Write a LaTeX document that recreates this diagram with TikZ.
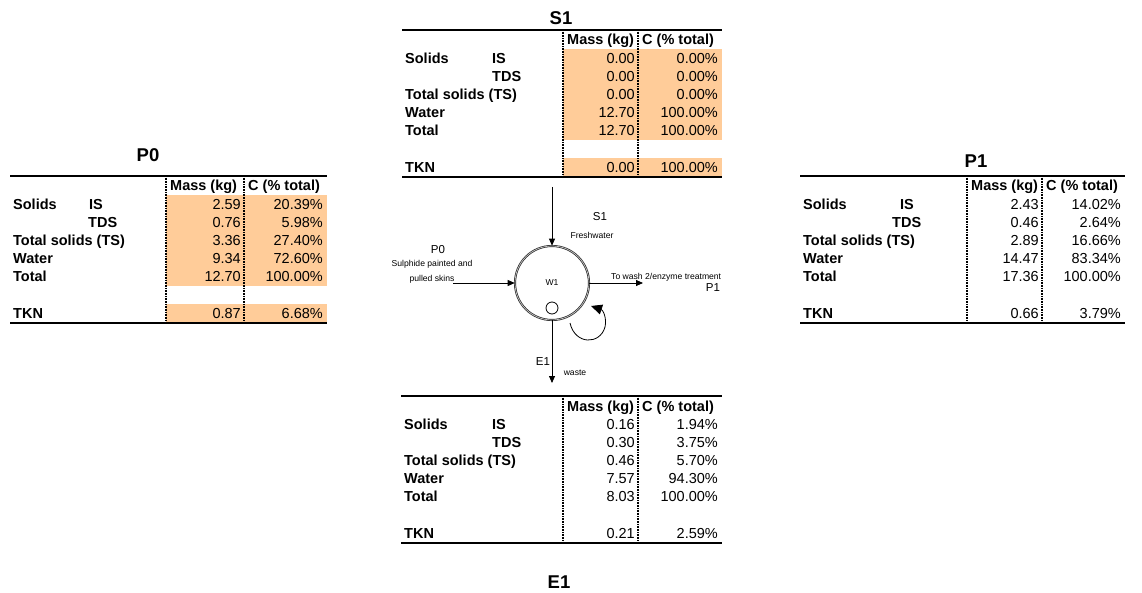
\documentclass[tikz,border=0pt]{standalone}
\usepackage{fontspec}
\setmainfont{Liberation Sans}
\usetikzlibrary{arrows.meta}
\definecolor{cellorange}{HTML}{FFCC99}
\tikzset{
  lbl/.style={font=\fontsize{14.5}{17}\selectfont\bfseries, inner sep=0pt, anchor=base west},
  val/.style={font=\fontsize{14.5}{17}\selectfont, inner sep=0pt, anchor=base east},
  ttl/.style={font=\fontsize{18.5}{22}\selectfont\bfseries, inner sep=0pt},
  rulethick/.style={line width=2.5pt},
  colsep/.style={line width=2pt, dash pattern=on 0.8pt off 0.8pt},
  smalltxt/.style={font=\fontsize{8.6}{15}\selectfont, inner sep=0pt},
  tag/.style={font=\fontsize{11.5}{13}\selectfont, inner sep=0pt},
  flow/.style={line width=0.8pt, -{Triangle[length=7pt,width=6pt]}},
}
% #1 name, #2 L, #3 d1, #4 d2, #5 R, #6 T, #7 IS x, #8 TDS x, #9 values
\newcommand{\flowtab}[9]{%
\begin{scope}[shift={(0,#6)}]
  \draw[rulethick] (#2,0) -- (#5,0);
  \draw[rulethick] (#2,147) -- (#5,147);
  \draw[colsep] (#3,0) -- (#3,147);
  \draw[colsep] (#4,0) -- (#4,147);
  \node[lbl] (#1-hm) at (#3+4,15) {Mass (kg)};
  \node[lbl] (#1-hc) at (#4+4,15) {C (\% total)};
  \node[lbl] (#1-sol) at (#2+3,33.5) {Solids};
  \node[lbl] (#1-is) at (#7,33.5) {IS};
  \node[lbl] (#1-tds) at (#8,51.5) {TDS};
  \node[lbl] (#1-ts) at (#2+3,69.5) {Total solids (TS)};
  \node[lbl] (#1-wat) at (#2+3,87.5) {Water};
  \node[lbl] (#1-tot) at (#2+3,105.5) {Total};
  \node[lbl] (#1-tkn) at (#2+3,142.5) {TKN};
  \foreach \m/\c [count=\i] in {#9} {
    \pgfmathsetmacro\ry{\i<6 ? 15.5+18*\i : 142.5}
    \node[val] (#1-m\i) at (#4-3,\ry) {\m};
    \node[val] (#1-c\i) at (#5-4,\ry) {\c};
  }
\end{scope}}
\newcommand{\orangecells}[3]{%
  \fill[cellorange] (#1,#3+19) rectangle (#2,#3+110);
  \fill[cellorange] (#1,#3+128) rectangle (#2,#3+147);}
\begin{document}
\begin{tikzpicture}[x=1pt,y=-1pt]
\fill[white] (0,0) rectangle (1142,593);
\useasboundingbox (0,0) rectangle (1142,593);

% orange cells
\orangecells{563}{722}{30}
\orangecells{166}{327}{176}

% tables
\flowtab{s1t}{402}{563}{638}{722}{30}{492}{492}{0.00/0.00\%, 0.00/0.00\%, 0.00/0.00\%, 12.70/100.00\%, 12.70/100.00\%, 0.00/100.00\%}
\flowtab{p0t}{10}{166}{244}{327}{176}{89}{88}{2.59/20.39\%, 0.76/5.98\%, 3.36/27.40\%, 9.34/72.60\%, 12.70/100.00\%, 0.87/6.68\%}
\flowtab{p1t}{800}{967}{1042}{1125}{176}{900}{892}{2.43/14.02\%, 0.46/2.64\%, 2.89/16.66\%, 14.47/83.34\%, 17.36/100.00\%, 0.66/3.79\%}
\flowtab{e1t}{401}{563}{638}{722}{396}{492}{492}{0.16/1.94\%, 0.30/3.75\%, 0.46/5.70\%, 7.57/94.30\%, 8.03/100.00\%, 0.21/2.59\%}

% titles
\node[ttl] (s1title) at (561,18) {S1};
\node[ttl] (p0title) at (148,155) {P0};
\node[ttl] (p1title) at (976,161) {P1};
\node[ttl] (e1title) at (559,582) {E1};

% process unit
\node[draw=black!85, double=gray!45, double distance=0.7pt, line width=0.7pt, circle,
      minimum size=74pt, inner sep=0pt, font=\fontsize{8.6}{10}\selectfont] (w1) at (552,283) {W1};
\node[draw, circle, minimum size=12pt, inner sep=0pt, line width=0.8pt] (vent) at (552,308) {};

\coordinate (s1src) at (552,187);
\coordinate (p0src) at (453,283);
\coordinate (p1dst) at (643,283);
\coordinate (e1dst) at (552,383);
\draw[flow] (s1src) -- (w1.north);
\draw[flow] (p0src) -- (w1.west);
\draw[flow] (w1.east) -- (p1dst);
\draw[flow] (w1.south) -- (e1dst);

\coordinate (rs) at (570,323);
\coordinate (re) at (591,306);
\draw[line width=0.8pt, -{Triangle[length=11pt,width=10pt]}] (rs) .. controls (575,345) and (600,345) .. (605,327) .. controls (607,318) and (603,310) .. (re);

% labels
\node[tag] (s1tag) at (600,217) {S1};
\node[smalltxt] (s1note) at (592,235) {Freshwater};
\node[tag] (p0tag) at (438,250) {P0};
\node[smalltxt, align=center] (p0note) at (432,271.5) {Sulphide painted and\\pulled skins};
\node[smalltxt, anchor=west] (p1note) at (611,277) {To wash 2/enzyme treatment};
\node[tag] (p1tag) at (713,288) {P1};
\node[tag] (e1tag) at (543,362) {E1};
\node[smalltxt] (e1note) at (575,373) {waste};
\end{tikzpicture}
\end{document}
